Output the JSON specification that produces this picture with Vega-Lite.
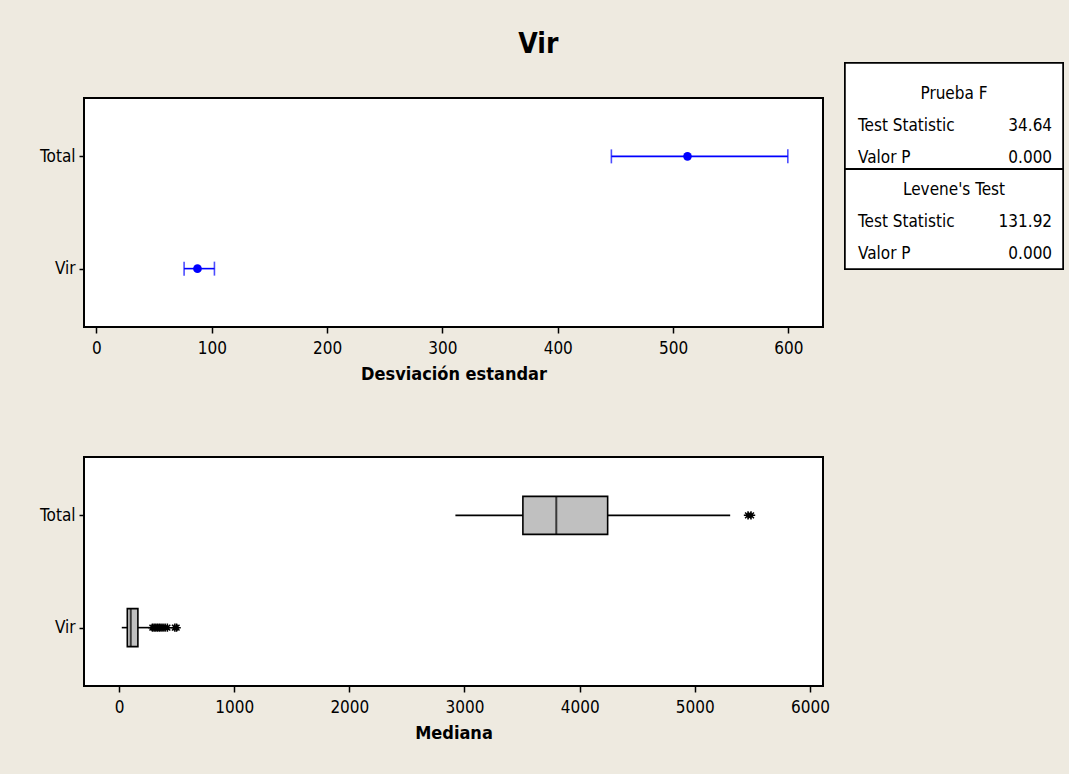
{
  "$schema": "https://vega.github.io/schema/vega-lite/v6.json",
  "background": "#EEEAE0",
  "padding": {"left": 33, "top": 31, "right": 8, "bottom": 36},
  "title": {"text": "Vir", "font": "DejaVu Sans Condensed", "fontSize": 28, "fontWeight": "bold", "color": "black", "anchor": "middle", "offset": 3, "dx": -10},
  "datasets": {
    "desv": [
      {"grupo": "Total", "inf": 446.5, "sd": 512.5, "sup": 599.5},
      {"grupo": "Vir", "inf": 76, "sd": 87.6, "sup": 102.3}
    ],
    "cajas": [
      {"grupo": "Total", "low": 2921, "q1": 3507, "mediana": 3797, "q3": 4243, "high": 5307},
      {"grupo": "Vir", "low": 24, "q1": 72, "mediana": 102, "q3": 164, "high": 280}
    ],
    "atipicos": [
      {"grupo": "Total", "valor": 5462},
      {"grupo": "Total", "valor": 5488},
      {"grupo": "Vir", "valor": 290},
      {"grupo": "Vir", "valor": 305},
      {"grupo": "Vir", "valor": 320},
      {"grupo": "Vir", "valor": 335},
      {"grupo": "Vir", "valor": 350},
      {"grupo": "Vir", "valor": 365},
      {"grupo": "Vir", "valor": 382},
      {"grupo": "Vir", "valor": 400},
      {"grupo": "Vir", "valor": 420},
      {"grupo": "Vir", "valor": 485},
      {"grupo": "Vir", "valor": 500}
    ],
    "pruebas": [
      {"fila": 1, "etiqueta": "Prueba F", "valor": "", "tipo": "titulo"},
      {"fila": 2, "etiqueta": "Test Statistic", "valor": "34.64", "tipo": "fila"},
      {"fila": 3, "etiqueta": "Valor P", "valor": "0.000", "tipo": "fila"},
      {"fila": 4, "etiqueta": "Levene's Test", "valor": "", "tipo": "titulo"},
      {"fila": 5, "etiqueta": "Test Statistic", "valor": "131.92", "tipo": "fila"},
      {"fila": 6, "etiqueta": "Valor P", "valor": "0.000", "tipo": "fila"}
    ]
  },
  "vconcat": [
    {
      "hconcat": [
        {
          "width": 739,
          "height": 229,
          "data": {"name": "desv"},
          "encoding": {
            "y": {"field": "grupo", "type": "nominal", "sort": ["Total", "Vir"], "scale": {"type": "point", "padding": 0.52}, "axis": {"title": null, "minExtent": 50, "maxExtent": 50}}
          },
          "layer": [
            {
              "mark": {"type": "rule", "color": "#0000FF", "strokeWidth": 1.6},
              "encoding": {
                "x": {"field": "inf", "type": "quantitative", "title": "Desviación estandar", "scale": {"domain": [-10.8, 630], "nice": false, "zero": false}, "axis": {"values": [0, 100, 200, 300, 400, 500, 600], "format": "d"}},
                "x2": {"field": "sup"}
              }
            },
            {
              "mark": {"type": "tick", "color": "#0000FF", "size": 14, "thickness": 1.6},
              "encoding": {"x": {"field": "inf", "type": "quantitative", "title": "Desviación estandar"}}
            },
            {
              "mark": {"type": "tick", "color": "#0000FF", "size": 14, "thickness": 1.6},
              "encoding": {"x": {"field": "sup", "type": "quantitative", "title": "Desviación estandar"}}
            },
            {
              "mark": {"type": "point", "filled": true, "color": "#0000FF", "size": 75, "opacity": 1},
              "encoding": {"x": {"field": "sd", "type": "quantitative", "title": "Desviación estandar"}}
            }
          ]
        },
        {
          "width": 218,
          "height": 171,
          "view": {"stroke": null, "fill": null},
          "data": {"name": "pruebas"},
          "layer": [
            {
              "mark": {"type": "rect", "fill": "white", "stroke": "black", "strokeWidth": 1.5},
              "encoding": {
                "x": {"datum": 0, "type": "quantitative", "scale": {"domain": [0, 1], "nice": false, "zero": false}, "axis": null},
                "x2": {"datum": 1},
                "y": {"datum": 0.03, "type": "quantitative", "scale": {"domain": [1.125, 6.47], "reverse": true, "nice": false, "zero": false}, "axis": null},
                "y2": {"datum": 6.47}
              }
            },
            {
              "mark": {"type": "rule", "color": "black", "strokeWidth": 1.5},
              "encoding": {"y": {"datum": 3.35, "type": "quantitative", "axis": null}}
            },
            {
              "transform": [{"filter": "datum.tipo === 'titulo'"}],
              "mark": {"type": "text", "font": "DejaVu Sans Condensed", "fontSize": 17, "align": "center", "baseline": "middle", "color": "black"},
              "encoding": {
                "x": {"datum": 0.5, "type": "quantitative", "axis": null},
                "y": {"field": "fila", "type": "quantitative", "axis": null},
                "text": {"field": "etiqueta"}
              }
            },
            {
              "transform": [{"filter": "datum.tipo === 'fila'"}],
              "mark": {"type": "text", "font": "DejaVu Sans Condensed", "fontSize": 17, "align": "left", "baseline": "middle", "color": "black"},
              "encoding": {
                "x": {"datum": 0.06, "type": "quantitative", "axis": null},
                "y": {"field": "fila", "type": "quantitative", "axis": null},
                "text": {"field": "etiqueta"}
              }
            },
            {
              "transform": [{"filter": "datum.tipo === 'fila'"}],
              "mark": {"type": "text", "font": "DejaVu Sans Condensed", "fontSize": 17, "align": "right", "baseline": "middle", "color": "black"},
              "encoding": {
                "x": {"datum": 0.95, "type": "quantitative", "axis": null},
                "y": {"field": "fila", "type": "quantitative", "axis": null},
                "text": {"field": "valor"}
              }
            }
          ]
        }
      ],
      "spacing": 20
    },
    {
      "width": 739,
      "height": 229,
      "layer": [
        {
          "data": {"name": "cajas"},
          "mark": {"type": "rule", "color": "black", "strokeWidth": 1.6},
          "encoding": {
            "y": {"field": "grupo", "type": "nominal", "sort": ["Total", "Vir"], "scale": {"type": "point", "padding": 0.52}, "axis": {"title": null, "minExtent": 50, "maxExtent": 50}},
            "x": {"field": "low", "type": "quantitative", "title": "Mediana", "scale": {"domain": [-304, 6113], "nice": false, "zero": false}, "axis": {"values": [0, 1000, 2000, 3000, 4000, 5000, 6000], "format": "d"}},
            "x2": {"field": "high"}
          }
        },
        {
          "data": {"name": "cajas"},
          "mark": {"type": "bar", "height": 38, "fill": "#C0C0C0", "stroke": "black", "strokeWidth": 1.6},
          "encoding": {
            "y": {"field": "grupo", "type": "nominal", "sort": ["Total", "Vir"]},
            "x": {"field": "q1", "type": "quantitative", "title": "Mediana"},
            "x2": {"field": "q3"}
          }
        },
        {
          "data": {"name": "cajas"},
          "mark": {"type": "tick", "size": 38, "thickness": 2, "color": "black"},
          "encoding": {
            "y": {"field": "grupo", "type": "nominal", "sort": ["Total", "Vir"]},
            "x": {"field": "mediana", "type": "quantitative", "title": "Mediana"}
          }
        },
        {
          "data": {"name": "atipicos"},
          "mark": {"type": "point", "shape": "M-1,0L1,0M0,-1L0,1M-0.7,-0.7L0.7,0.7M-0.7,0.7L0.7,-0.7", "size": 70, "stroke": "black", "strokeWidth": 1.5, "filled": false, "opacity": 1},
          "encoding": {
            "y": {"field": "grupo", "type": "nominal", "sort": ["Total", "Vir"]},
            "x": {"field": "valor", "type": "quantitative", "title": "Mediana"}
          }
        }
      ]
    }
  ],
  "spacing": 72,
  "config": {
    "view": {"stroke": "black", "strokeWidth": 2, "fill": "white"},
    "axis": {
      "labelFont": "DejaVu Sans Condensed",
      "labelFontSize": 17,
      "labelColor": "black",
      "titleFont": "DejaVu Sans Condensed",
      "titleFontSize": 18,
      "titleFontWeight": "bold",
      "titleColor": "black",
      "tickColor": "black",
      "tickWidth": 1.5,
      "domain": false,
      "grid": false
    },
    "axisX": {"tickSize": 6, "labelPadding": 7, "titlePadding": 9},
    "axisY": {"tickSize": 5, "labelPadding": 4}
  }
}
